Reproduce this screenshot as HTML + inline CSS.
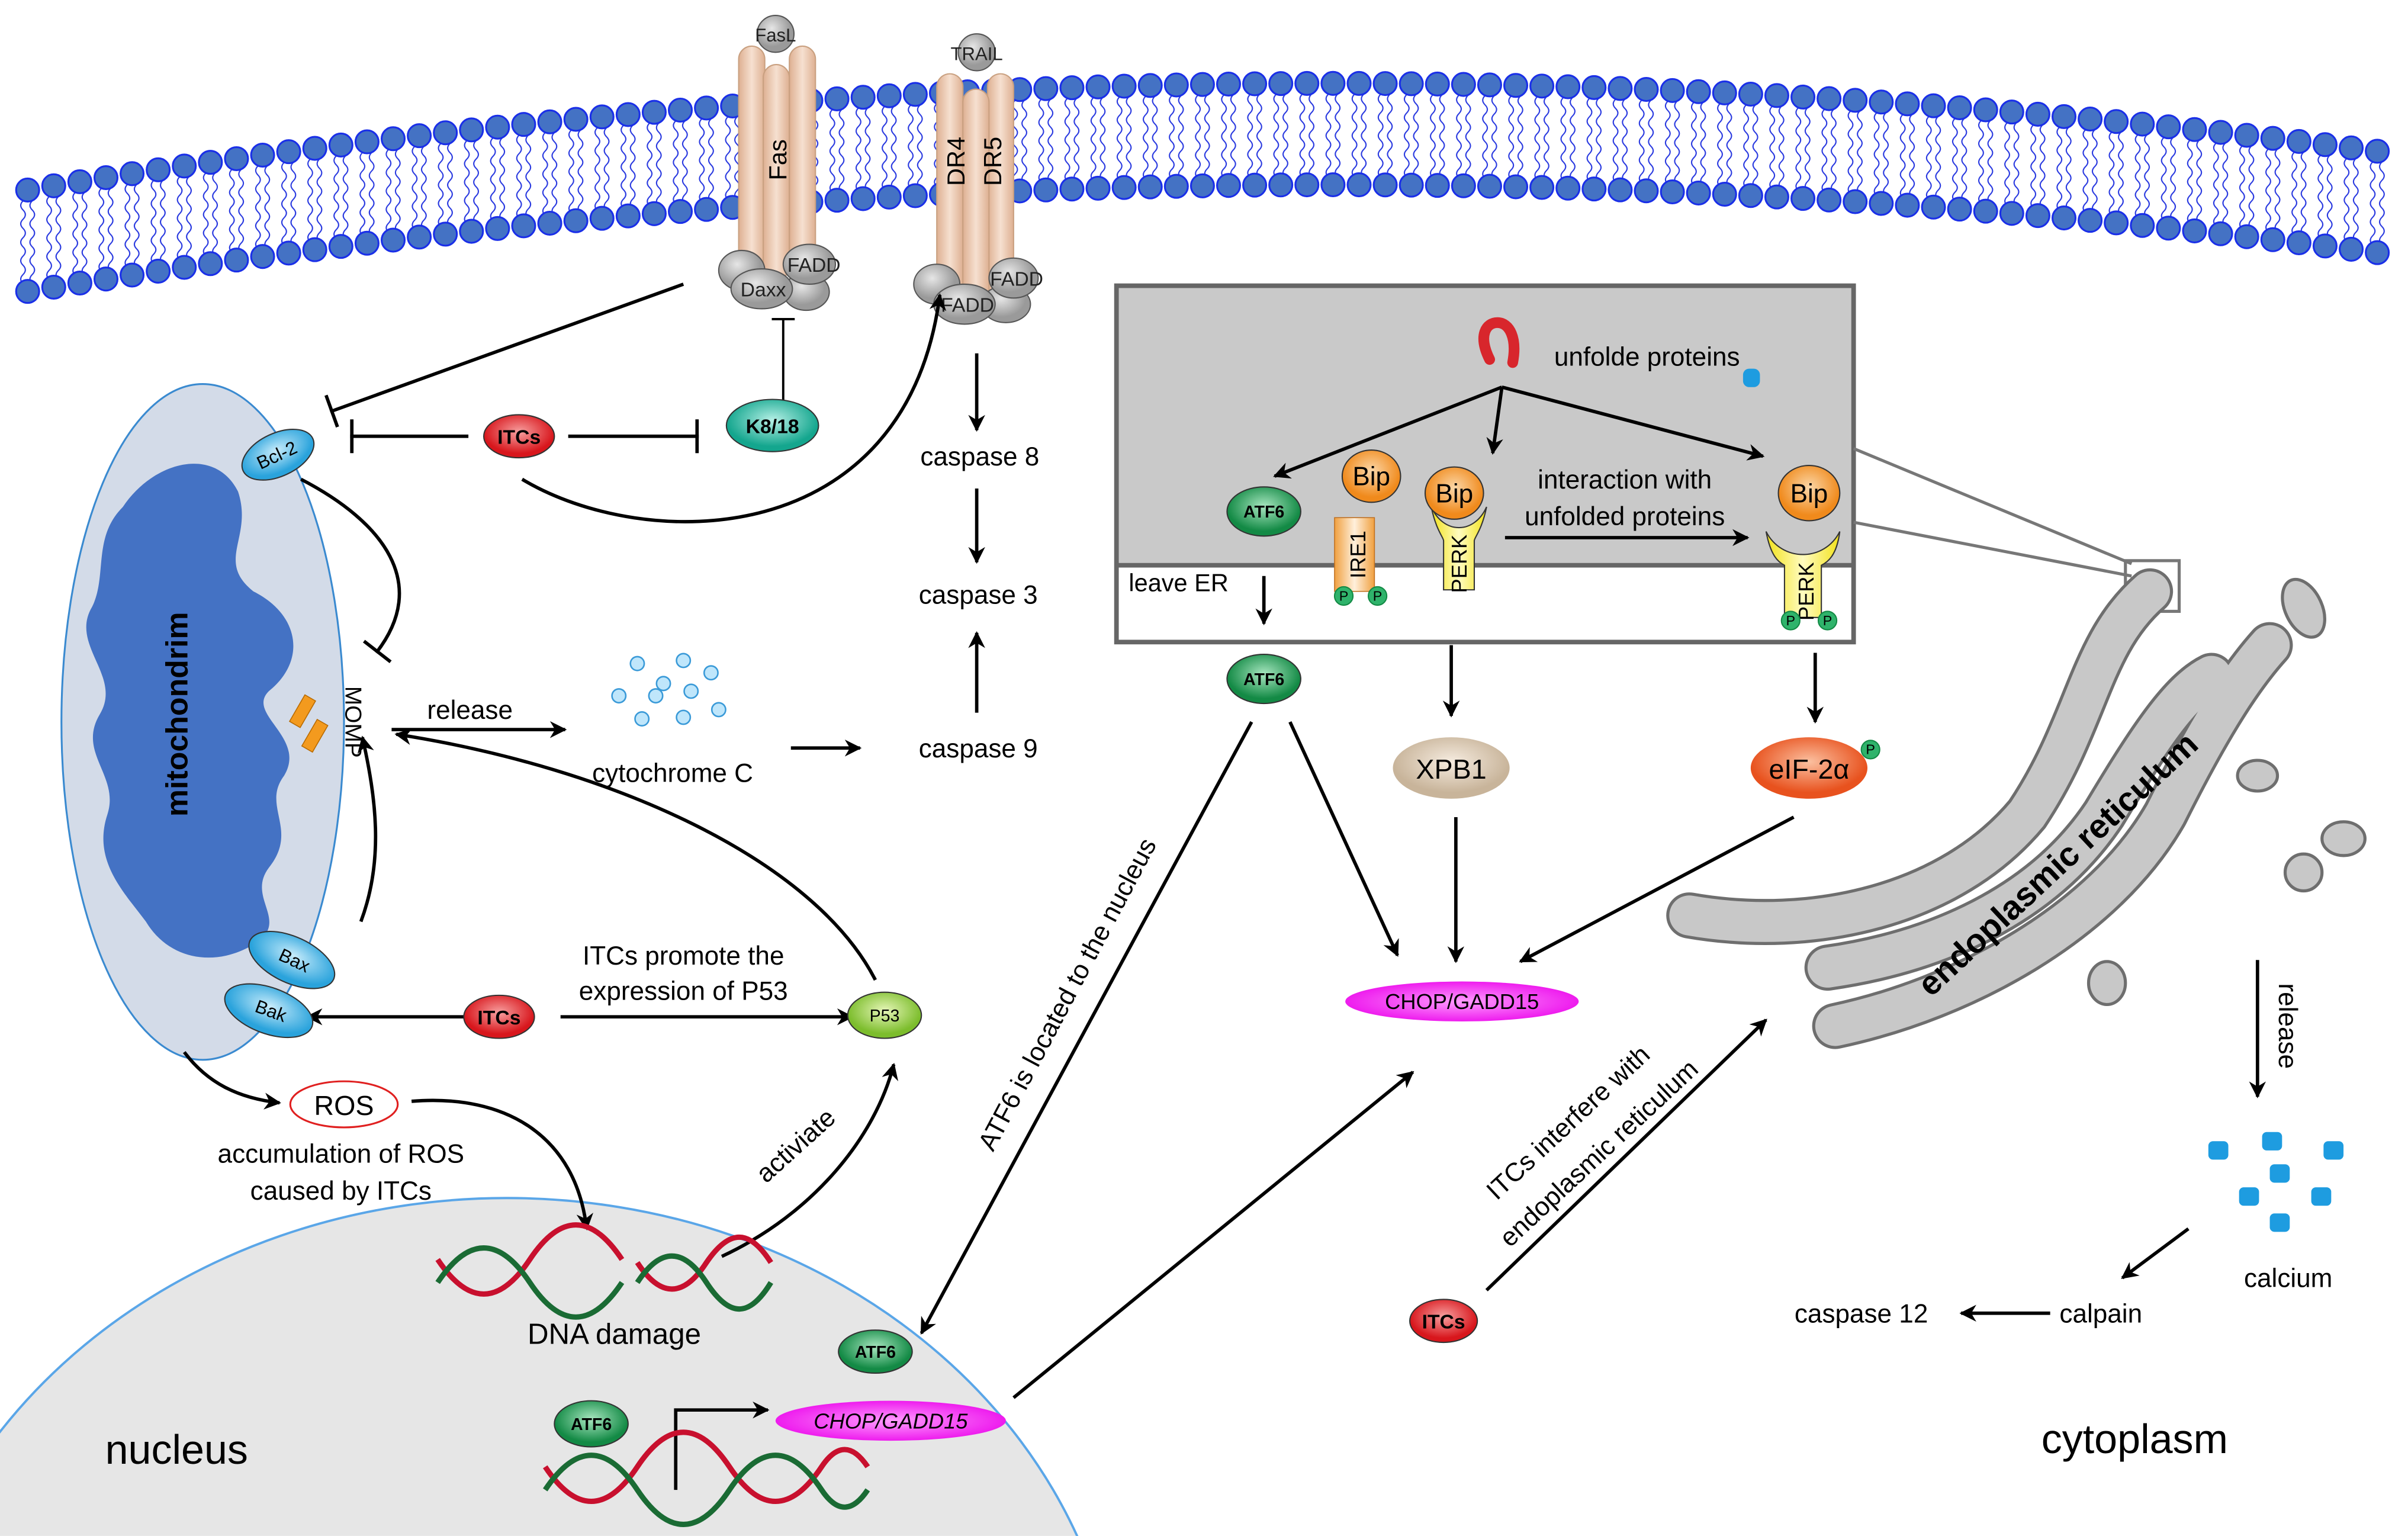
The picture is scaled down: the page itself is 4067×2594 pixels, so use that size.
<!DOCTYPE html>
<html><head><meta charset="utf-8"><style>
html,body{margin:0;padding:0;background:#fff;width:4067px;height:2594px;overflow:hidden;}
svg{display:block;font-family:"Liberation Sans",Arial,sans-serif;overflow:hidden;}
</style></head><body>
<svg id="s" width="4067" height="2594" viewBox="0 0 1568 1000" xmlns="http://www.w3.org/2000/svg">
<defs>
<clipPath id="clp"><rect x="0" y="0" width="1568" height="1000"/></clipPath>
<marker id="a" viewBox="0 0 10 10" refX="9" refY="5" markerWidth="5" markerHeight="5" orient="auto" markerUnits="strokeWidth"><path d="M0,0 L10,5 L0,10 L3,5z" fill="#000"/></marker>
<marker id="t" viewBox="0 0 4 20" refX="3" refY="10" markerWidth="2" markerHeight="10" orient="auto" markerUnits="strokeWidth"><rect x="1" y="0" width="2" height="20" fill="#000"/></marker>
<linearGradient id="tan" x1="0" x2="1"><stop offset="0" stop-color="#deb092"/><stop offset=".5" stop-color="#f6e0d0"/><stop offset="1" stop-color="#deb092"/></linearGradient>
<radialGradient id="gry" cx=".4" cy=".35"><stop offset="0" stop-color="#e6e6e6"/><stop offset="1" stop-color="#9a9a9a"/></radialGradient>
<radialGradient id="red" cx=".5" cy=".4"><stop offset="0" stop-color="#f7a0a0"/><stop offset="1" stop-color="#d8161c"/></radialGradient>
<radialGradient id="grn" cx=".5" cy=".4"><stop offset="0" stop-color="#a8e6c0"/><stop offset="1" stop-color="#138a45"/></radialGradient>
<radialGradient id="teal" cx=".5" cy=".4"><stop offset="0" stop-color="#b6f0e6"/><stop offset="1" stop-color="#14a68e"/></radialGradient>
<radialGradient id="blu" cx=".5" cy=".4"><stop offset="0" stop-color="#c8ecfb"/><stop offset="1" stop-color="#2aa3dc"/></radialGradient>
<radialGradient id="lim" cx=".5" cy=".4"><stop offset="0" stop-color="#e6f6b8"/><stop offset="1" stop-color="#7cbd2c"/></radialGradient>
<radialGradient id="org" cx=".5" cy=".4"><stop offset="0" stop-color="#fbd7a8"/><stop offset="1" stop-color="#f08a1c"/></radialGradient>
<radialGradient id="eif" cx=".5" cy=".4"><stop offset="0" stop-color="#fbc0a0"/><stop offset="1" stop-color="#e8521e"/></radialGradient>
<radialGradient id="xpb" cx=".5" cy=".4"><stop offset="0" stop-color="#f6ece0"/><stop offset="1" stop-color="#c8b49a"/></radialGradient>
<radialGradient id="mag" cx=".5" cy=".5"><stop offset="0" stop-color="#ff9cff"/><stop offset="1" stop-color="#ee1cee"/></radialGradient>
<linearGradient id="yel" x1="0" x2="1"><stop offset="0" stop-color="#f2e21a"/><stop offset=".5" stop-color="#fffbc0"/><stop offset="1" stop-color="#f2e21a"/></linearGradient>
<linearGradient id="ire" x1="0" x2="1"><stop offset="0" stop-color="#f0a040"/><stop offset=".5" stop-color="#fff0dc"/><stop offset="1" stop-color="#f0a040"/></linearGradient>
</defs>

<!-- nucleus -->
<g clip-path="url(#clp)">
<ellipse cx="330" cy="1130" rx="400" ry="350" fill="#e6e6e6" stroke="#5aa6e8" stroke-width="1.5"/>
</g>

<g id="mem"></g>

<!-- Fas receptor -->
<g stroke="#c9a080" stroke-width="0.8">
<rect x="481" y="30" width="17" height="150" rx="8.5" fill="url(#tan)"/>
<rect x="514" y="30" width="17" height="150" rx="8.5" fill="url(#tan)"/>
<rect x="497" y="42" width="17" height="140" rx="8.5" fill="url(#tan)"/>
<rect x="610" y="48" width="17" height="150" rx="8.5" fill="url(#tan)"/>
<rect x="643" y="48" width="17" height="150" rx="8.5" fill="url(#tan)"/>
<rect x="627" y="58" width="17" height="140" rx="8.5" fill="url(#tan)"/>
</g>
<text transform="translate(512,104) rotate(-90)" font-size="16" text-anchor="middle">Fas</text>
<text transform="translate(628,105) rotate(-90)" font-size="16" text-anchor="middle">DR4</text>
<text transform="translate(652,105) rotate(-90)" font-size="16" text-anchor="middle">DR5</text>
<g stroke="#555" stroke-width="0.8" fill="url(#gry)">
<circle cx="505" cy="22" r="12"/>
<circle cx="636" cy="34" r="12"/>
<ellipse cx="483" cy="176" rx="15" ry="13"/><ellipse cx="525" cy="190" rx="15" ry="12"/>
<ellipse cx="527" cy="172" rx="17" ry="13"/><ellipse cx="496" cy="188" rx="20" ry="13"/>
<ellipse cx="610" cy="185" rx="15" ry="13"/><ellipse cx="655" cy="198" rx="16" ry="12"/>
<ellipse cx="660" cy="181" rx="16" ry="13"/><ellipse cx="628" cy="198" rx="20" ry="13"/>
</g>
<g font-size="13" text-anchor="middle" fill="#222">
<text x="505" y="27" font-size="12">FasL</text><text x="636" y="39" font-size="12">TRAIL</text>
<text x="530" y="177">FADD</text><text x="497" y="193">Daxx</text>
<text x="662" y="186">FADD</text><text x="630" y="203">FADD</text>
</g>

<!-- mitochondrion -->
<ellipse cx="132" cy="470" rx="92" ry="220" fill="#d3dbe8" stroke="#3a8ad0" stroke-width="1.2"/>
<path d="M80,330 C100,300 140,290 155,320 C165,350 140,365 165,385 C195,400 200,430 175,450 C160,465 200,480 185,505 C170,525 195,540 175,565 C160,585 190,600 165,615 C140,630 110,625 95,600 C80,580 60,560 70,530 C78,505 50,490 65,465 C80,440 45,420 60,395 C70,375 60,350 80,330z" fill="#4472c4"/>
<text transform="translate(122,465) rotate(-90)" font-size="20" font-weight="bold" text-anchor="middle">mitochondrim</text>
<g fill="#f39a1e" stroke="#b86a00" stroke-width="0.6">
<rect x="193" y="453" width="8" height="20" transform="rotate(30 197 463)"/>
<rect x="201" y="469" width="8" height="20" transform="rotate(30 205 479)"/>
</g>
<text transform="translate(225,470) rotate(90)" font-size="15" text-anchor="middle">MOMP</text>

<!-- ER box -->
<rect x="727" y="186" width="480" height="182" fill="#c9c9c9"/>
<rect x="727" y="186" width="480" height="232" fill="none" stroke="#666" stroke-width="3"/>
<line x1="727" y1="368" x2="1207" y2="368" stroke="#666" stroke-width="3"/>
<line x1="1207" y1="292" x2="1388" y2="367" stroke="#777" stroke-width="2"/>
<line x1="1207" y1="340" x2="1388" y2="375" stroke="#777" stroke-width="2"/>
<rect x="1384" y="365" width="35" height="33" fill="none" stroke="#777" stroke-width="2"/>

<!-- ER organelle -->
<g fill="none" stroke-linecap="round">
<g stroke="#6e6e6e" stroke-width="30">
<path d="M1100,596 C1180,610 1270,590 1320,530 C1360,470 1360,420 1400,385"/>
<path d="M1190,630 C1260,620 1330,590 1370,530 C1400,480 1420,450 1440,440"/>
<path d="M1195,668 C1280,650 1370,600 1410,530 C1440,470 1460,440 1478,420"/>
</g>
<g stroke="#c8c8c8" stroke-width="26">
<path d="M1100,596 C1180,610 1270,590 1320,530 C1360,470 1360,420 1400,385"/>
<path d="M1190,630 C1260,620 1330,590 1370,530 C1400,480 1420,450 1440,440"/>
<path d="M1195,668 C1280,650 1370,600 1410,530 C1440,470 1460,440 1478,420"/>
</g>
</g>
<g fill="#c8c8c8" stroke="#6e6e6e" stroke-width="2">
<ellipse cx="1500" cy="396" rx="12" ry="20" transform="rotate(-25 1500 396)"/>
<ellipse cx="1526" cy="546" rx="14" ry="11"/>
<ellipse cx="1500" cy="568" rx="12" ry="12"/>
<ellipse cx="1470" cy="505" rx="13" ry="10"/>
<ellipse cx="1372" cy="640" rx="12" ry="14"/>
</g>
<text transform="translate(1345,568) rotate(-43)" font-size="22" font-weight="bold" text-anchor="middle">endoplasmic reticulum</text>

<!-- ER box contents -->
<path d="M970,234 C962,218 968,210 975,210 C983,210 988,220 985,236" fill="none" stroke="#d8262c" stroke-width="7" stroke-linecap="round"/>
<text x="1012" y="238" font-size="17">unfolde proteins</text>
<rect x="1135" y="240" width="11" height="12" rx="4" fill="#1e9ce0"/>
<g stroke="#000" stroke-width="2.2" fill="none">
<path d="M978,252 L830,310" marker-end="url(#a)"/>
<path d="M978,252 L972,295" marker-end="url(#a)"/>
<path d="M978,252 L1148,297" marker-end="url(#a)"/>
<path d="M980,350 L1138,350" marker-end="url(#a)"/>
<path d="M823,375 L823,406" marker-end="url(#a)"/>
</g>
<text x="1058" y="318" font-size="17" text-anchor="middle">interaction with</text>
<text x="1058" y="342" font-size="17" text-anchor="middle">unfolded proteins</text>
<text x="735" y="385" font-size="16">leave ER</text>
<rect x="869" y="337" width="26" height="48" fill="url(#ire)" stroke="#c07020" stroke-width="0.6"/>
<text transform="translate(889,361) rotate(-90)" font-size="14" text-anchor="middle">IRE1</text>
<path d="M932,330 C935,345 940,350 940,352 L940,384 L960,384 L960,352 C960,350 965,345 968,330 C960,348 940,348 932,330z" fill="url(#yel)" stroke="#333" stroke-width="0.8"/>
<text transform="translate(955,367) rotate(-90)" font-size="14" text-anchor="middle">PERK</text>
<path d="M1150,346 C1153,362 1158,366 1162,368 L1162,402 L1186,402 L1186,368 C1190,366 1196,362 1198,346 C1188,366 1160,366 1150,346z" fill="url(#yel)" stroke="#333" stroke-width="0.8"/>
<text transform="translate(1181,385) rotate(-90)" font-size="14" text-anchor="middle">PERK</text>
<g fill="url(#org)" stroke="#333" stroke-width="0.8">
<ellipse cx="893" cy="310" rx="19" ry="17"/>
<ellipse cx="947" cy="321" rx="19" ry="17"/>
<ellipse cx="1178" cy="321" rx="20" ry="18"/>
</g>
<g font-size="17" text-anchor="middle"><text x="893" y="316">Bip</text><text x="947" y="327">Bip</text><text x="1178" y="327">Bip</text></g>
<g fill="#2fb36b" stroke="#138a45" stroke-width="0.8">
<circle cx="875" cy="388" r="6"/><circle cx="897" cy="388" r="6"/>
<circle cx="1166" cy="404" r="6"/><circle cx="1190" cy="404" r="6"/>
<circle cx="1218" cy="488" r="6"/>
</g>
<g font-size="9" text-anchor="middle"><text x="875" y="391">P</text><text x="897" y="391">P</text><text x="1166" y="407">P</text><text x="1190" y="407">P</text><text x="1218" y="491">P</text></g>

<!-- arrows main -->
<g stroke="#000" stroke-width="2.2" fill="none">
<path d="M445,185 L215,268" marker-end="url(#t)"/>
<path d="M305,284 L228,284" marker-end="url(#t)"/>
<path d="M370,284 L455,284" marker-end="url(#t)"/>
<path d="M510,262 L510,207" stroke-width="1.5" marker-end="url(#t)"/>
<path d="M340,312 C420,360 590,360 612,192" marker-end="url(#a)"/>
<path d="M196,312 C250,340 280,380 245,425" marker-end="url(#t)"/>
<path d="M636,230 L636,280" marker-end="url(#a)"/>
<path d="M636,318 L636,366" marker-end="url(#a)"/>
<path d="M636,464 L636,412" marker-end="url(#a)"/>
<path d="M255,475 L368,475" marker-end="url(#a)"/>
<path d="M515,487 L560,487" marker-end="url(#a)"/>
<path d="M235,600 C250,560 245,520 236,480" marker-end="url(#a)"/>
<path d="M303,662 L200,662" marker-end="url(#a)"/>
<path d="M365,662 L555,662" marker-end="url(#a)"/>
<path d="M570,638 C530,560 400,500 258,478" marker-end="url(#a)"/>
<path d="M120,685 C135,705 155,715 182,718" marker-end="url(#a)"/>
<path d="M268,717 C330,712 375,740 382,800" marker-end="url(#a)"/>
<path d="M470,818 C530,790 570,740 582,693" marker-end="url(#a)"/>
<path d="M815,470 L600,868" marker-end="url(#a)"/>
<path d="M840,470 L910,622" marker-end="url(#a)"/>
<path d="M945,420 L945,466" marker-end="url(#a)"/>
<path d="M948,532 L948,626" marker-end="url(#a)"/>
<path d="M1182,425 L1182,470" marker-end="url(#a)"/>
<path d="M1168,532 L990,626" marker-end="url(#a)"/>
<path d="M660,910 L920,698" marker-end="url(#a)"/>
<path d="M968,840 L1150,664" marker-end="url(#a)"/>
<path d="M1470,625 L1470,714" marker-end="url(#a)"/>
<path d="M1425,800 L1382,832" marker-end="url(#a)"/>
<path d="M1335,855 L1277,855" marker-end="url(#a)"/>
<path d="M440,970 L440,918 L500,918" marker-end="url(#a)"/>
</g>

<!-- nodes -->
<g stroke="#333" stroke-width="0.8">
<ellipse cx="338" cy="284" rx="23" ry="14" fill="url(#red)"/>
<ellipse cx="325" cy="662" rx="23" ry="14" fill="url(#red)"/>
<ellipse cx="940" cy="860" rx="22" ry="14" fill="url(#red)"/>
<ellipse cx="503" cy="277" rx="30" ry="17" fill="url(#teal)"/>
<ellipse cx="181" cy="296" rx="25" ry="14" transform="rotate(-25 181 296)" fill="url(#blu)"/>
<ellipse cx="190" cy="625" rx="30" ry="15" transform="rotate(25 190 625)" fill="url(#blu)"/>
<ellipse cx="175" cy="658" rx="30" ry="15" transform="rotate(20 175 658)" fill="url(#blu)"/>
<ellipse cx="576" cy="661" rx="24" ry="15" fill="url(#lim)"/>
<ellipse cx="823" cy="333" rx="24" ry="16" fill="url(#grn)"/>
<ellipse cx="823" cy="442" rx="24" ry="16" fill="url(#grn)"/>
<ellipse cx="570" cy="880" rx="24" ry="14" fill="url(#grn)"/>
<ellipse cx="385" cy="927" rx="24" ry="15" fill="url(#grn)"/>
<ellipse cx="945" cy="500" rx="38" ry="20" fill="url(#xpb)" stroke="none"/>
<ellipse cx="1178" cy="500" rx="38" ry="20" fill="url(#eif)" stroke="none"/>
<ellipse cx="952" cy="652" rx="76" ry="13" fill="url(#mag)" stroke="none"/>
<ellipse cx="580" cy="925" rx="75" ry="13" fill="url(#mag)" stroke="none"/>
</g>
<ellipse cx="224" cy="719" rx="35" ry="15" fill="#fff" stroke="#e02020" stroke-width="1.2"/>
<g text-anchor="middle" font-size="13">
<text x="338" y="289" font-weight="bold">ITCs</text>
<text x="325" y="667" font-weight="bold">ITCs</text>
<text x="940" y="865" font-weight="bold">ITCs</text>
<text x="503" y="282" font-weight="bold">K8/18</text>
<text transform="translate(182,300) rotate(-25)" font-size="12">Bcl-2</text>
<text transform="translate(190,629) rotate(25)" font-size="12">Bax</text>
<text transform="translate(175,662) rotate(20)" font-size="12">Bak</text>
<text x="576" y="665" font-size="11">P53</text>
<text x="823" y="337" font-size="11" font-weight="bold">ATF6</text>
<text x="823" y="446" font-size="11" font-weight="bold">ATF6</text>
<text x="570" y="884" font-size="11" font-weight="bold">ATF6</text>
<text x="385" y="931" font-size="11" font-weight="bold">ATF6</text>
<text x="945" y="507" font-size="18">XPB1</text>
<text x="1178" y="507" font-size="18">eIF-2α</text>
<text x="952" y="657" font-size="14">CHOP/GADD15</text>
<text x="580" y="930" font-size="14" font-style="italic">CHOP/GADD15</text>
<text x="224" y="726" font-size="18">ROS</text>
</g>

<g fill="#bfe6fb" stroke="#3a9ad8" stroke-width="1">
<circle cx="415" cy="432" r="4.5"/><circle cx="445" cy="430" r="4.5"/><circle cx="432" cy="445" r="4.5"/>
<circle cx="403" cy="453" r="4.5"/><circle cx="427" cy="453" r="4.5"/><circle cx="450" cy="450" r="4.5"/>
<circle cx="463" cy="438" r="4.5"/><circle cx="445" cy="467" r="4.5"/><circle cx="468" cy="462" r="4.5"/><circle cx="418" cy="468" r="4.5"/>
</g>
<g fill="#1e9ce0">
<rect x="1438" y="743" width="13" height="12" rx="3"/><rect x="1473" y="737" width="13" height="12" rx="3"/><rect x="1513" y="743" width="13" height="12" rx="3"/>
<rect x="1478" y="758" width="13" height="12" rx="3"/><rect x="1458" y="773" width="13" height="12" rx="3"/><rect x="1505" y="773" width="13" height="12" rx="3"/>
<rect x="1478" y="790" width="13" height="12" rx="3"/>
</g>

<g fill="none" stroke-width="3.5">
<path d="M285,820 C305,850 325,850 345,820 C365,790 385,790 405,820" stroke="#c8102e"/>
<path d="M285,835 C305,805 325,805 345,835 C365,865 385,865 405,835" stroke="#1a6b34"/>
<path d="M415,822 C430,845 445,845 460,822 C475,800 488,800 502,822" stroke="#c8102e"/>
<path d="M415,835 C430,812 445,812 460,835 C475,858 488,858 502,835" stroke="#1a6b34"/>
<path d="M355,955 C375,985 395,985 415,955 C435,925 455,925 475,955 C495,985 515,985 535,955 C545,940 555,940 565,955" stroke="#c8102e"/>
<path d="M355,970 C375,940 395,940 415,970 C435,1000 455,1000 475,970 C495,940 515,940 535,970 C545,985 555,985 565,970" stroke="#1a6b34"/>
</g>

<g font-size="17" text-anchor="middle">
<text x="638" y="303">caspase 8</text>
<text x="637" y="393">caspase 3</text>
<text x="637" y="493">caspase 9</text>
<text x="306" y="468">release</text>
<text x="438" y="509">cytochrome C</text>
<text x="445" y="628">ITCs promote the</text>
<text x="445" y="651">expression of P53</text>
<text x="222" y="757">accumulation of ROS</text>
<text x="222" y="781">caused by ITCs</text>
<text x="400" y="875" font-size="19">DNA damage</text>
<text transform="translate(522,750) rotate(-42)">activiate</text>
<text transform="translate(700,650) rotate(-62)">ATF6 is located to the nucleus</text>
<text transform="translate(1025,735) rotate(-43)">ITCs interfere  with</text>
<text transform="translate(1045,755) rotate(-43)">endoplasmic reticulum</text>
<text transform="translate(1484,668) rotate(90)">release</text>
<text x="1490" y="838">calcium</text>
<text x="1368" y="861">calpain</text>
<text x="1212" y="861">caspase 12</text>
</g>
<text x="115" y="953" font-size="27" text-anchor="middle">nucleus</text>
<text x="1390" y="946" font-size="27" text-anchor="middle">cytoplasm</text>
</svg>
<script>
(function(){
var g=document.getElementById('mem'),ns='http://www.w3.org/2000/svg';
function el(n,attrs){var e=document.createElementNS(ns,n);for(var k in attrs)e.setAttribute(k,attrs[k]);g.appendChild(e);}
function yt(x){var x0=10,y0=125,x1=780,y1=55,x2=1560,y2=100;
return y0*(x-x1)*(x-x2)/((x0-x1)*(x0-x2))+y1*(x-x0)*(x-x2)/((x1-x0)*(x1-x2))+y2*(x-x0)*(x-x1)/((x2-x0)*(x2-x1));}
for(var x=18;x<1565;x+=17){
 var t=yt(x),b=t+66;
 for(var k=-1;k<=1;k+=2){
  var xx=x+k*3,d='M'+xx+','+(t+7),i=0;
  for(var y=t+7;y<b-7;y+=6){d+=' Q'+(xx+(i%2?3:-3))+','+(y+3)+' '+xx+','+(y+6);i++;}
  el('path',{d:d,fill:'none',stroke:'#2b3be0','stroke-width':'0.8'});
 }
 el('circle',{cx:x,cy:t,r:7.5,fill:'#4472c4',stroke:'#1a2fe8','stroke-width':1.2});
 el('circle',{cx:x,cy:b,r:7.5,fill:'#4472c4',stroke:'#1a2fe8','stroke-width':1.2});
}
})();
</script>
</body></html>
